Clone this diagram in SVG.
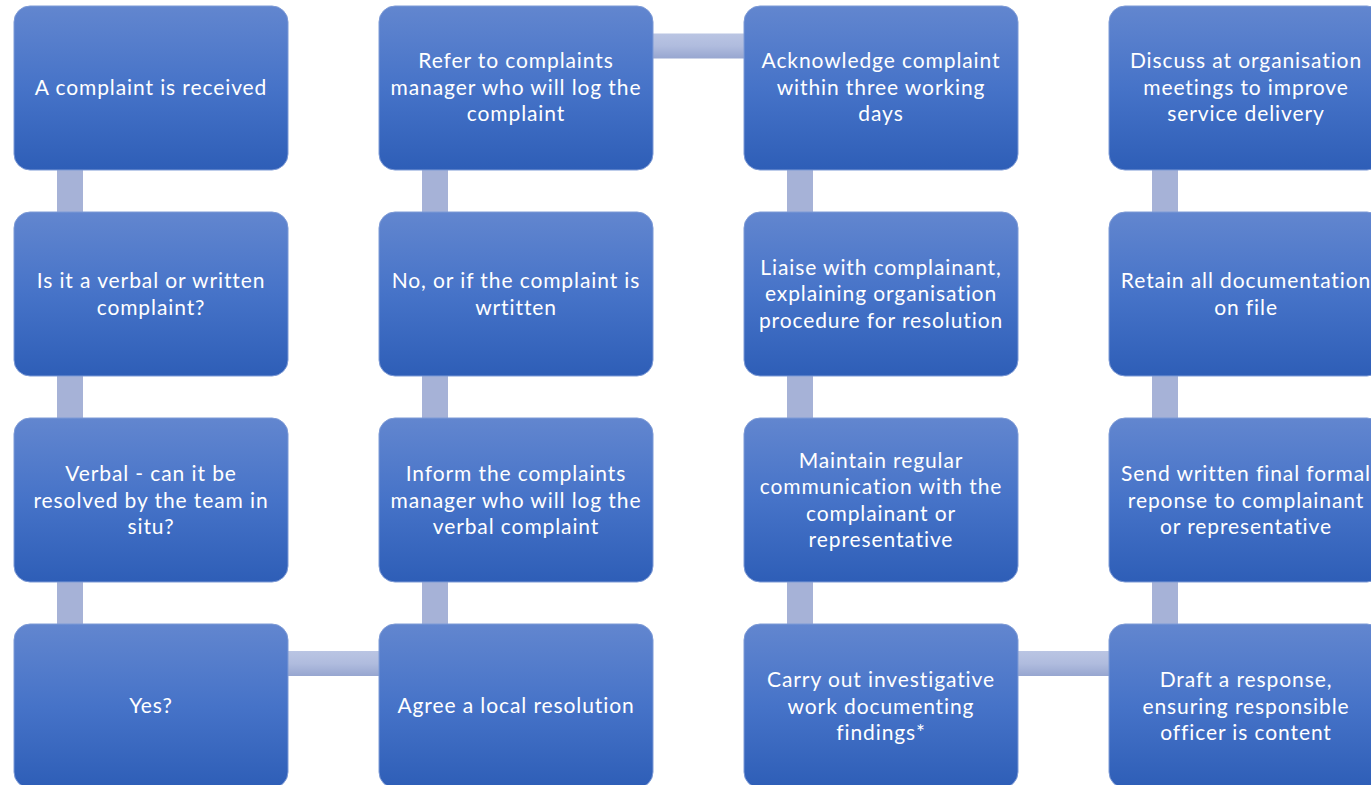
<svg xmlns="http://www.w3.org/2000/svg" width="1371" height="785" viewBox="0 0 1371 785">
<defs>
<linearGradient id="boxg" x1="0" y1="0" x2="0" y2="1">
<stop offset="0" stop-color="#6286CF"/>
<stop offset="0.5" stop-color="#4673C8"/>
<stop offset="1" stop-color="#2E5EB7"/>
</linearGradient>
<linearGradient id="hcon" x1="0" y1="0" x2="0" y2="1">
<stop offset="0" stop-color="#BAC5E3"/>
<stop offset="0.5" stop-color="#B0BCDE"/>
<stop offset="1" stop-color="#97A6D0"/>
</linearGradient>
</defs>
<style>
.box{fill:url(#boxg);stroke:#7D9AD6;stroke-width:1}
.t{font-family:Lato,"Liberation Sans",sans-serif;font-size:21px;fill:#FFFFFF;text-anchor:middle;letter-spacing:0.9px}
.vc{fill:#A6B2D7}
.hc{fill:url(#hcon)}
</style>
<rect width="1371" height="785" fill="#FFFFFF"/>
<g id="connectors">
<rect class="vc" x="57" y="168" width="26" height="46"/>
<rect class="vc" x="57" y="374" width="26" height="46"/>
<rect class="vc" x="57" y="580" width="26" height="46"/>
<rect class="vc" x="422" y="168" width="26" height="46"/>
<rect class="vc" x="422" y="374" width="26" height="46"/>
<rect class="vc" x="422" y="580" width="26" height="46"/>
<rect class="vc" x="787" y="168" width="26" height="46"/>
<rect class="vc" x="787" y="374" width="26" height="46"/>
<rect class="vc" x="787" y="580" width="26" height="46"/>
<rect class="vc" x="1152" y="168" width="26" height="46"/>
<rect class="vc" x="1152" y="374" width="26" height="46"/>
<rect class="vc" x="1152" y="580" width="26" height="46"/>
<rect class="hc" x="286" y="651" width="95" height="25"/>
<rect class="hc" x="651" y="33.5" width="95" height="25"/>
<rect class="hc" x="1016" y="651" width="95" height="25"/>
</g>
<g id="n1"><rect class="box" x="14" y="6" width="274" height="164" rx="16"/>
<text class="t" x="151" y="95">A complaint is received</text></g>
<g id="n2"><rect class="box" x="14" y="212" width="274" height="164" rx="16"/>
<text class="t" x="151" y="288">Is it a verbal or written</text><text class="t" x="151" y="315">complaint?</text></g>
<g id="n3"><rect class="box" x="14" y="418" width="274" height="164" rx="16"/>
<text class="t" x="151" y="481">Verbal - can it be</text><text class="t" x="151" y="508">resolved by the team in</text><text class="t" x="151" y="534">situ?</text></g>
<g id="n4"><rect class="box" x="14" y="624" width="274" height="164" rx="16"/>
<text class="t" x="151" y="713">Yes?</text></g>
<g id="n5"><rect class="box" x="379" y="6" width="274" height="164" rx="16"/>
<text class="t" x="516" y="68">Refer to complaints</text><text class="t" x="516" y="95">manager who will log the</text><text class="t" x="516" y="121">complaint</text></g>
<g id="n6"><rect class="box" x="379" y="212" width="274" height="164" rx="16"/>
<text class="t" x="516" y="288">No, or if the complaint is</text><text class="t" x="516" y="315">wrtitten</text></g>
<g id="n7"><rect class="box" x="379" y="418" width="274" height="164" rx="16"/>
<text class="t" x="516" y="481">Inform the complaints</text><text class="t" x="516" y="508">manager who will log the</text><text class="t" x="516" y="534">verbal complaint</text></g>
<g id="n8"><rect class="box" x="379" y="624" width="274" height="164" rx="16"/>
<text class="t" x="516" y="713">Agree a local resolution</text></g>
<g id="n9"><rect class="box" x="744" y="6" width="274" height="164" rx="16"/>
<text class="t" x="881" y="68">Acknowledge complaint</text><text class="t" x="881" y="95">within three working</text><text class="t" x="881" y="121">days</text></g>
<g id="n10"><rect class="box" x="744" y="212" width="274" height="164" rx="16"/>
<text class="t" x="881" y="275">Liaise with complainant,</text><text class="t" x="881" y="301">explaining organisation</text><text class="t" x="881" y="328">procedure for resolution</text></g>
<g id="n11"><rect class="box" x="744" y="418" width="274" height="164" rx="16"/>
<text class="t" x="881" y="468">Maintain regular</text><text class="t" x="881" y="494">communication with the</text><text class="t" x="881" y="521">complainant or</text><text class="t" x="881" y="547">representative</text></g>
<g id="n12"><rect class="box" x="744" y="624" width="274" height="164" rx="16"/>
<text class="t" x="881" y="687">Carry out investigative</text><text class="t" x="881" y="714">work documenting</text><text class="t" x="881" y="740">findings*</text></g>
<g id="n13"><rect class="box" x="1109" y="6" width="274" height="164" rx="16"/>
<text class="t" x="1246" y="68">Discuss at organisation</text><text class="t" x="1246" y="95">meetings to improve</text><text class="t" x="1246" y="121">service delivery</text></g>
<g id="n14"><rect class="box" x="1109" y="212" width="274" height="164" rx="16"/>
<text class="t" x="1246" y="288">Retain all documentation</text><text class="t" x="1246" y="315">on file</text></g>
<g id="n15"><rect class="box" x="1109" y="418" width="274" height="164" rx="16"/>
<text class="t" x="1246" y="481">Send written final formal</text><text class="t" x="1246" y="508">reponse to complainant</text><text class="t" x="1246" y="534">or representative</text></g>
<g id="n16"><rect class="box" x="1109" y="624" width="274" height="164" rx="16"/>
<text class="t" x="1246" y="687">Draft a response,</text><text class="t" x="1246" y="714">ensuring responsible</text><text class="t" x="1246" y="740">officer is content</text></g>
</svg>
